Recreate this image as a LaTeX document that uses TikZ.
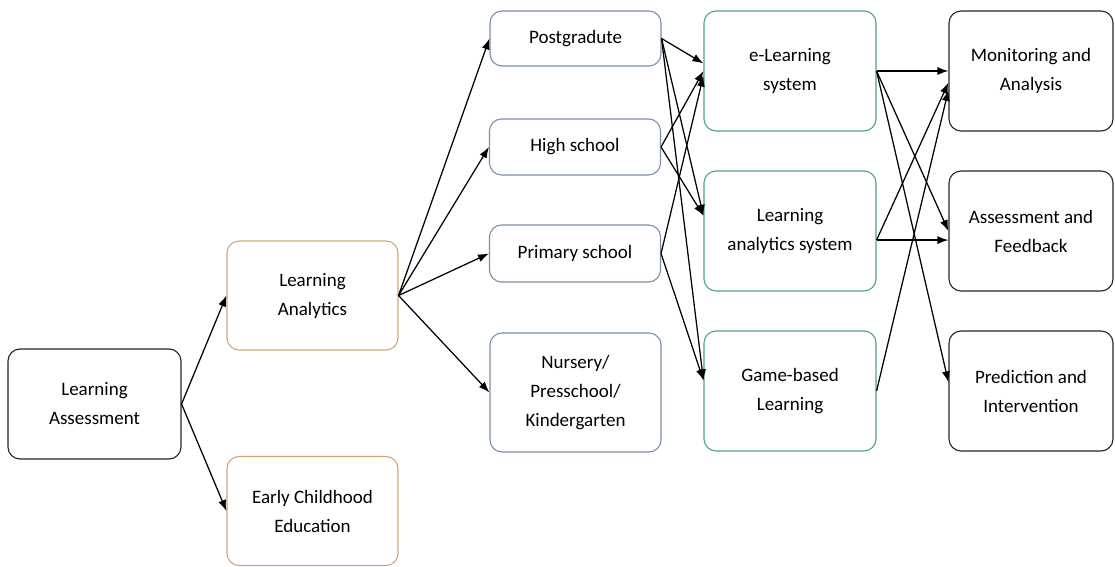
\documentclass[tikz,border=0pt]{standalone}
\usepackage{fontspec}
\setmainfont{Carlito}
\usetikzlibrary{arrows.meta}
\definecolor{rootedge}{RGB}{35,35,35}
\definecolor{topicedge}{RGB}{214,164,116}
\definecolor{leveledge}{RGB}{122,142,168}
\definecolor{systemedge}{RGB}{78,162,132}
\begin{document}
\begin{tikzpicture}[>={Latex[length=11bp,width=8bp]},line join=bevel,
  box/.style={draw,rounded corners=12bp,line width=1.1bp,align=center,inner sep=0pt,
    font=\fontsize{19bp}{29bp}\selectfont},
  rootbox/.style={box,draw=rootedge,minimum width=173bp,minimum height=110bp},
  topicbox/.style={box,draw=topicedge,minimum width=171bp,minimum height=109bp},
  levelbox/.style={box,draw=leveledge,minimum width=171bp},
  systembox/.style={box,draw=systemedge,minimum width=172bp,minimum height=120bp},
  outcomebox/.style={box,draw=rootedge,minimum width=164bp,minimum height=120bp},
  link/.style={black,->,line width=1.25bp}]
\useasboundingbox (0bp,0bp) rectangle (1115bp,567bp);
%%
\node (la) at (94.5bp,163bp) [rootbox] {Learning\\Assessment};
  \node (lan) at (312.5bp,271.5bp) [topicbox] {Learning\\Analytics};
  \node (ece) at (312.5bp,56bp) [topicbox] {Early Childhood\\Education};
  \node (pg) at (575.5bp,528.5bp) [levelbox,minimum height=55bp] {Postgradute};
  \node (hs) at (575bp,420bp) [levelbox,minimum height=56bp] {High school};
  \node (ps) at (575bp,313.5bp) [levelbox,minimum height=57bp] {Primary school};
  \node (nur) at (575.5bp,174.5bp) [levelbox,minimum height=119bp] {Nursery/\\Presschool/\\Kindergarten};
  \node (el) at (790bp,496bp) [systembox] {e-Learning\\system};
  \node (las) at (790bp,336bp) [systembox] {Learning\\analytics system};
  \node (gbl) at (790bp,176bp) [systembox] {Game-based\\Learning};
  \node (ma) at (1031bp,496bp) [outcomebox] {Monitoring and\\Analysis};
  \node (af) at (1031bp,336bp) [outcomebox] {Assessment and\\Feedback};
  \node (pi) at (1031bp,176bp) [outcomebox] {Prediction and\\Intervention};
  \draw [link] (la.east) -- (lan.west);
  \draw [link] (la.east) -- (ece.west);
  \draw [link] (lan.east) -- (pg.west);
  \draw [link] (lan.east) -- (hs.west);
  \draw [link] (lan.east) -- (ps.west);
  \draw [link] (lan.east) -- (nur.west);
  \draw [link] (pg.east) -- (el.175);
  \draw [link] (pg.east) -- (las.170);
  \draw [link] (pg.east) -- (gbl.173);
  \draw [link] (hs.east) -- (el.180);
  \draw [link] (hs.east) -- (las.170);
  \draw [link] (ps.east) -- (el.183);
  \draw [link] (ps.east) -- (gbl.173);
  \draw [link] (el.east) -- (ma.west);
  \draw [link] (el.east) -- (af.west);
  \draw [link] (el.east) -- (pi.174);
  \draw [link] (las.354) -- (las.354 -| af.west);
  \draw [link] (las.354) -- (ma.188);
  \draw [link] (gbl.east) -- (ma.193);
%
\end{tikzpicture}
\end{document}
